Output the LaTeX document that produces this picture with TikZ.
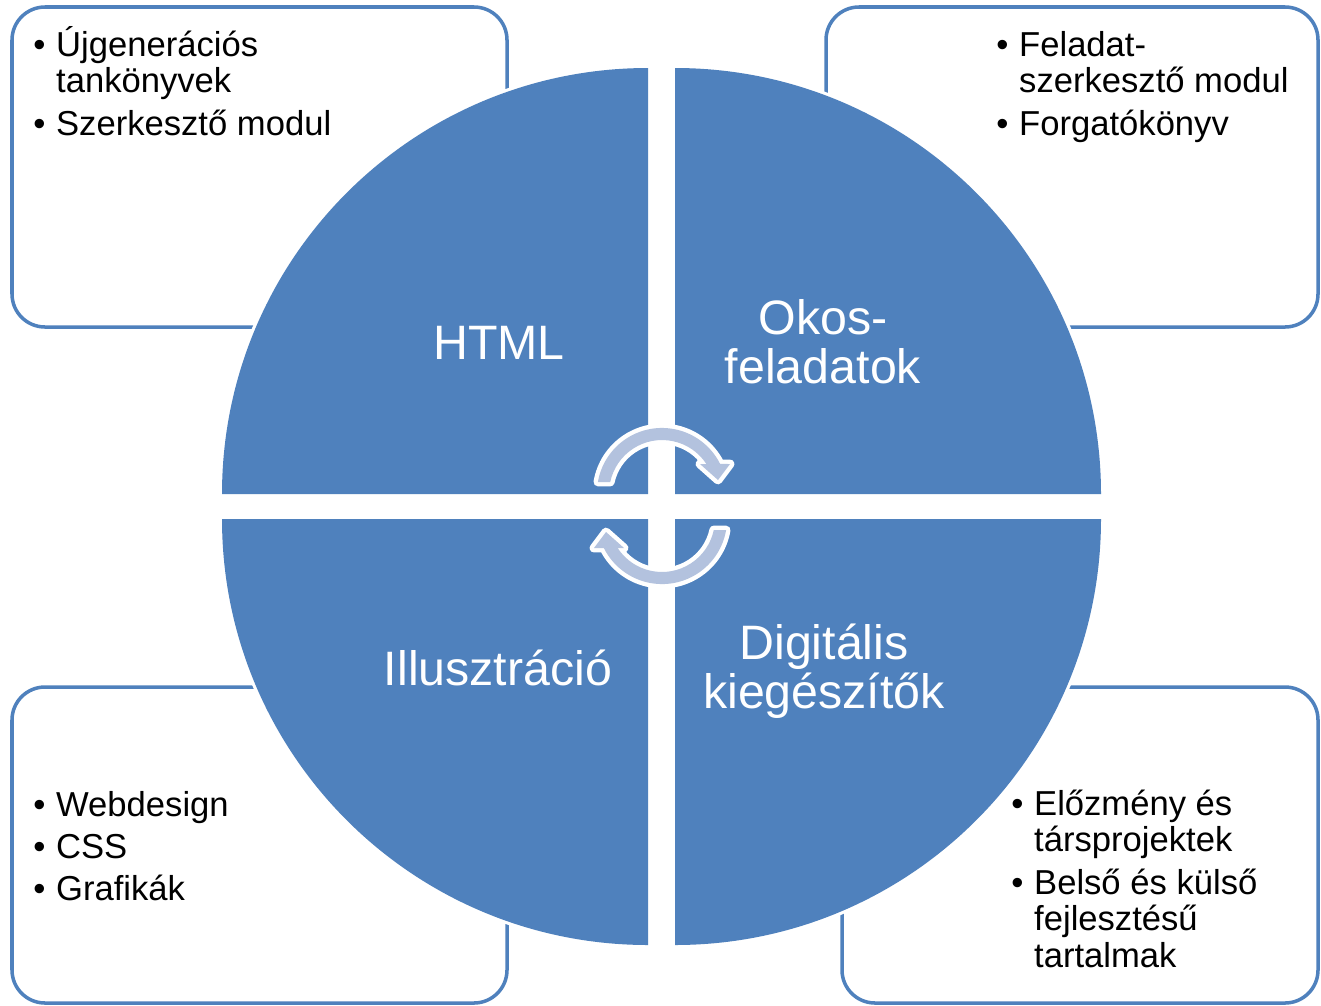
\documentclass[tikz,border=0pt]{standalone}
\usepackage{fontspec}
\setmainfont{Liberation Sans}
\definecolor{segblue}{HTML}{4F81BD}
\definecolor{arrowfill}{HTML}{B3C2DE}
\newcommand{\bu}{\makebox[13pt][l]{\textbullet}}

\begin{document}
\begin{tikzpicture}[x=0.02cm,y=-0.02cm,
  infobox/.style={draw=segblue, line width=2pt, rounded corners=0.66cm, fill=white},
  segment/.style={fill=segblue, preaction={draw=white, line width=3.6pt}},
  cycarrow/.style={fill=arrowfill, preaction={draw=white, line width=5pt, line join=round}},
  listtext/.style={anchor=base west, inner sep=0pt, font=\fontsize{19.7}{21}\selectfont},
  segtext/.style={anchor=base, inner sep=0pt, text=white, text width=6cm, align=center,
    font=\fontsize{27.5}{28.3}\selectfont}]

\useasboundingbox (0,0) rectangle (1321,1005);

%%%%%%%%%%%%%%%%%%%%%%%%%%%%%%%%%%%%%%%%%%%%
\draw[infobox] (12,7) rectangle (507,327);
\draw[infobox] (826,7) rectangle (1318,327);
\draw[infobox] (12,687) rectangle (507,1003);
\draw[infobox] (842,687) rectangle (1318,1003);

\node[listtext] (tlitems) at (33,56) {\begin{tabular}[t]{@{}l@{}l@{}}
  \bu & Újgenerációs\\ & tankönyvek\\[3.4pt] \bu & Szerkesztő modul\end{tabular}};
\node[listtext] (tritems) at (996,56) {\begin{tabular}[t]{@{}l@{}l@{}}
  \bu & Feladat-\\ & szerkesztő modul\\[3.4pt] \bu & Forgatókönyv\end{tabular}};
\node[listtext] (blitems) at (33,816) {\begin{tabular}[t]{@{}l@{}l@{}}
  \bu & Webdesign\\[3pt] \bu & CSS\\[3pt] \bu & Grafikák\end{tabular}};
\node[listtext] (britems) at (1011,815) {\begin{tabular}[t]{@{}l@{}l@{}}
  \bu & Előzmény és\\ & társprojektek\\[3pt] \bu & Belső és külső\\ & fejlesztésű\\ & tartalmak\end{tabular}};

%%%%%%%%%%%%%%%%%%%%%%%%%%%%%%%%%%%%%%%%%%%%
\path[segment] (648,494) -- (222,494) arc[start angle=180, end angle=270, radius=426] -- cycle;
\path[segment] (675,494) -- (1101,494) arc[start angle=0, end angle=-90, radius=426] -- cycle;
\path[segment] (648,519) -- (222,519) arc[start angle=180, end angle=90, radius=426] -- cycle;
\path[segment] (675,519) -- (1101,519) arc[start angle=0, end angle=90, radius=426] -- cycle;

\node[segtext] (html) at (499,359) {HTML};
\node[segtext] (okos) at (823,334) {Okos-\\feladatok};
\node[segtext] (illu) at (498,685) {Illusztráció};
\node[segtext] (digi) at (824,659) {Digitális\\kiegészítők};

%%%%%%%%%%%%%%%%%%%%%%%%%%%%%%%%%%%%%%%%%%%%
\path[cycarrow] (597.9,482) arc[start angle=-170.3, end angle=-26.5, radius=65]
  -- (730,464) -- (718,480) -- (700,464) -- (706.4,464)
  arc[start angle=-33.2, end angle=-168, radius=53] -- cycle;
\begin{scope}[rotate around={180:(662,506)}]
\path[cycarrow] (597.9,482) arc[start angle=-170.3, end angle=-26.5, radius=65]
  -- (730,464) -- (718,480) -- (700,464) -- (706.4,464)
  arc[start angle=-33.2, end angle=-168, radius=53] -- cycle;
\end{scope}

\end{tikzpicture}
\end{document}
